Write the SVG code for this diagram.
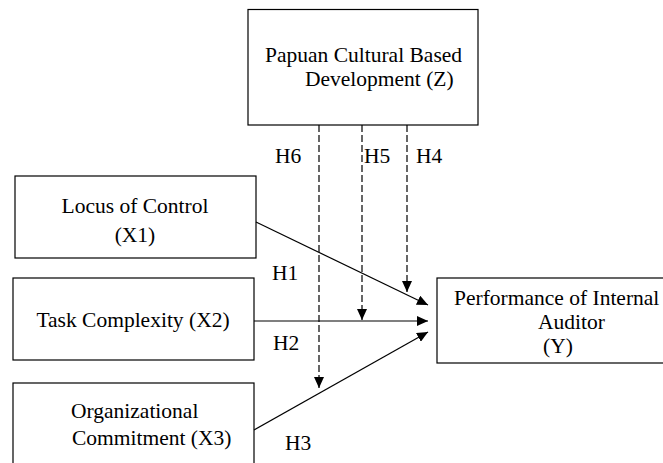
<svg xmlns="http://www.w3.org/2000/svg" width="663" height="463" viewBox="0 0 663 463">
  <style>
    .box { fill: #ffffff; stroke: #000000; stroke-width: 1.2; }
    .t { font-family: "Liberation Serif", "Times New Roman", serif; font-size: 21.5px; fill: #000000; }
    .solid { stroke: #000000; stroke-width: 1.2; fill: none; }
    .dash { stroke: #000000; stroke-width: 1.2; fill: none; stroke-dasharray: 7,3; }
  </style>
  <defs>
    <marker id="arrow" markerUnits="userSpaceOnUse" markerWidth="12" markerHeight="10" refX="11" refY="5" orient="auto">
      <path d="M0,0 L11,5 L0,10 Z" fill="#000000"/>
    </marker>
  </defs>
  <rect width="663" height="463" fill="#ffffff"/>

  <g id="nodeZ">
    <rect class="box" x="248" y="9.5" width="230" height="115.5"/>
    <text class="t" x="265" y="62">Papuan Cultural Based</text>
    <text class="t" x="305" y="86">Development (Z)</text>
  </g>

  <g id="nodeX1">
    <rect class="box" x="15" y="176" width="241" height="82"/>
    <text class="t" x="135" y="213" text-anchor="middle">Locus of Control</text>
    <text class="t" x="135" y="242" text-anchor="middle">(X1)</text>
  </g>

  <g id="nodeX2">
    <rect class="box" x="13" y="278" width="241" height="82"/>
    <text class="t" x="133" y="327" text-anchor="middle">Task Complexity (X2)</text>
  </g>

  <g id="nodeX3">
    <rect class="box" x="13" y="383" width="241" height="90"/>
    <text class="t" x="71" y="418">Organizational</text>
    <text class="t" x="72" y="445">Commitment (X3)</text>
  </g>

  <g id="nodeY">
    <rect class="box" x="437" y="278" width="235" height="85"/>
    <text class="t" x="454" y="305">Performance of Internal</text>
    <text class="t" x="538" y="329">Auditor</text>
    <text class="t" x="543" y="353">(Y)</text>
  </g>

  <g id="connectors">
    <line class="solid" x1="256" y1="222" x2="428" y2="305" marker-end="url(#arrow)"/>
    <line class="solid" x1="254" y1="321" x2="428" y2="321" marker-end="url(#arrow)"/>
    <line class="solid" x1="254" y1="430" x2="428" y2="332" marker-end="url(#arrow)"/>
    <line class="dash" x1="407" y1="125" x2="407" y2="292" marker-end="url(#arrow)"/>
    <line class="dash" x1="362" y1="125" x2="362" y2="320" marker-end="url(#arrow)"/>
    <line class="dash" x1="319" y1="125" x2="319" y2="388" marker-end="url(#arrow)"/>
  </g>

  <g id="labels">
    <text class="t" x="275" y="163">H6</text>
    <text class="t" x="364" y="163">H5</text>
    <text class="t" x="416" y="163">H4</text>
    <text class="t" x="272" y="280">H1</text>
    <text class="t" x="273" y="350">H2</text>
    <text class="t" x="285" y="450">H3</text>
  </g>
</svg>
